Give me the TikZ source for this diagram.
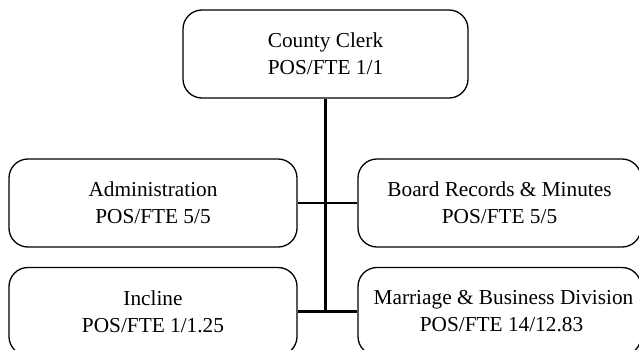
\documentclass[tikz,border=0pt]{standalone}
\usepackage{fontspec}
\setmainfont{Liberation Serif}
\begin{document}
\begin{tikzpicture}[x=1pt,y=-1pt,
  unitbox/.style={draw, line width=1.3pt, rounded corners=19pt,
    minimum height=88pt, inner sep=0pt, align=center,
    font=\fontsize{21.3}{27}\selectfont},
  link/.style={line width=2.7pt}]
\useasboundingbox (0,0) rectangle (639,349);
\clip (0,0) rectangle (639,349);
% org chart boxes
\node[unitbox, minimum width=285pt] (clerk) at (325.5,54) {County Clerk\\POS/FTE 1/1};
\node[unitbox, minimum width=288pt] (admin) at (153,203) {Administration\\POS/FTE 5/5};
\node[unitbox, minimum width=283pt] (board) at (499.5,203) {Board Records \& Minutes\\POS/FTE 5/5};
\node[unitbox, minimum width=288pt] (incline) at (153,311.5) {Incline\\POS/FTE 1/1.25};
\node[unitbox, minimum width=283pt] (marriage) at (499.5,311.5) {\hspace*{8pt}Marriage \& Business Division\\\hspace*{4pt}POS/FTE 14/12.83};
% trunk and branches
\coordinate (trunkend) at (clerk.south |- incline.east);
\draw[link] (clerk.south) -- (trunkend);
\draw[link] (admin.east) -- (board.west);
\draw[link] (incline.east) -- (marriage.west);
\end{tikzpicture}
\end{document}
